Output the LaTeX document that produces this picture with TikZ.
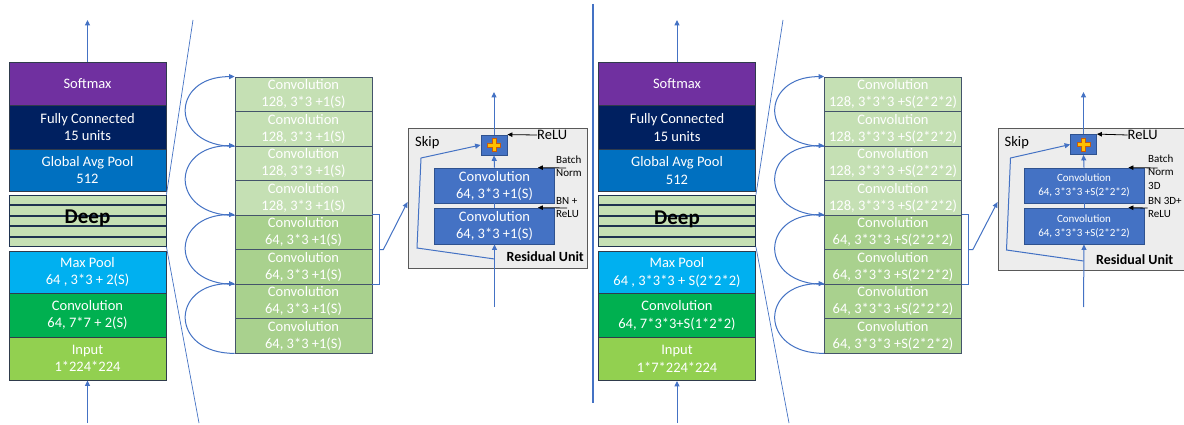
\documentclass[tikz,border=0pt]{standalone}
\usepackage{fontspec}
\setmainfont{Carlito}
\usetikzlibrary{arrows.meta,calc}

\definecolor{cSoft}{HTML}{7030A0}
\definecolor{cFC}{HTML}{002060}
\definecolor{cGAP}{HTML}{0070C0}
\definecolor{cMax}{HTML}{00B0F0}
\definecolor{cConv}{HTML}{00B050}
\definecolor{cIn}{HTML}{92D050}
\definecolor{cEdge}{HTML}{2F3B4C}
\definecolor{cStrip}{HTML}{C5E0B4}
\definecolor{cStripEdge}{HTML}{1F3350}
\definecolor{cLt}{HTML}{C5E0B4}
\definecolor{cDk}{HTML}{A9D18E}
\definecolor{cRowEdge}{HTML}{44546A}
\definecolor{cFlow}{HTML}{4472C4}
\definecolor{cRes}{HTML}{EDEDED}
\definecolor{cResEdge}{HTML}{595959}
\definecolor{cConvB}{HTML}{4472C4}
\definecolor{cConvEdge}{HTML}{2F528F}
\definecolor{cYel}{HTML}{FFC000}
\definecolor{cYelEdge}{HTML}{C55A11}

\newcommand\setfs[2]{\fontsize{#1}{#2}\selectfont}
% yellow "add" cross centred on a node
\newcommand\plusmark[1]{%
  \filldraw[fill=cYel, draw=cYelEdge, line width=0.4pt, shift={(#1)}]
    (-2,-6.5) -- (2,-6.5) -- (2,-2) -- (6.5,-2) -- (6.5,2) -- (2,2) -- (2,6.5)
    -- (-2,6.5) -- (-2,2) -- (-6.5,2) -- (-6.5,-2) -- (-2,-2) -- cycle;}

\tikzset{
  lyr/.style={draw=cEdge, line width=0.9pt, minimum width=157pt, inner sep=0pt,
    align=center, text=white, font=\setfs{14.5}{17.5}},
  deepstrip/.style={draw=cStripEdge, line width=0.9pt, fill=cStrip,
    minimum width=157pt, minimum height=9.5pt, inner sep=0pt},
  deeplbl/.style={font=\bfseries\setfs{21}{24}, text=black, inner sep=0pt},
  convrow/.style={draw=cRowEdge, line width=0.8pt, minimum width=137pt,
    minimum height=34.5pt, inner sep=0pt, align=center, text=white,
    font=\setfs{14.5}{17}},
  flow/.style={draw=cFlow, line width=1pt},
  headed/.style={-{Triangle[length=5.5pt,width=5pt]}},
  resbox/.style={draw=cResEdge, line width=0.9pt, fill=cRes, inner sep=0pt},
  convbox/.style={draw=cConvEdge, line width=0.8pt, fill=cConvB,
    minimum width=120pt, inner sep=0pt, align=center, text=white},
  addbox/.style={draw=cConvEdge, line width=0.8pt, fill=cConvB,
    minimum width=26pt, minimum height=20pt, inner sep=0pt},
  note/.style={font=\setfs{14.5}{17}, text=black, inner sep=0pt},
  smallnote/.style={font=\setfs{11}{13}, text=black, inner sep=0pt, align=left},
  pointer/.style={draw=black, line width=0.8pt, -{Triangle[length=5pt,width=4.5pt]}},
}

\begin{document}
\begin{tikzpicture}[x=1pt, y=-1pt]
\useasboundingbox (0,0) rectangle (1184,425);
\fill[white] (0,0) rectangle (1184,425);

%% ================= 2D network =================
% main stack
\node[lyr, fill=cSoft, minimum height=43pt] (Lsoft) at (87.5,83.5) {Softmax};
\node[lyr, fill=cFC, minimum height=44pt] (Lfc) at (87.5,127) {Fully Connected\\15 units};
\node[lyr, fill=cGAP, minimum height=42pt] (Lgap) at (87.5,170) {Global Avg Pool\\512};
\foreach \k/\y in {1/199.75,2/210.25,3/220.75,4/231.25,5/241.75}
  \node[deepstrip] (Ld\k) at (87.5,\y) {};
\node[deeplbl, anchor=base] (Ldeep) at (87.5,223) {Deep};
\node[lyr, fill=cMax, minimum height=42pt] (Lmax) at (87.5,272) {Max Pool\\64 , 3*3 + 2(S)};
\node[lyr, fill=cConv, minimum height=44pt] (Lconv) at (87.5,315) {Convolution\\64, 7*7 + 2(S)};
\node[lyr, fill=cIn, minimum height=43pt] (Lin) at (87.5,358.5) {Input\\1*224*224};

\coordinate (Lout) at (87.5,20);
\coordinate (Lsrc) at (87.5,423);
\draw[flow, headed] (Lsoft.north) -- (Lout);
\draw[flow, headed] (Lsrc) -- (Lin.south);

% zoom lines towards the deep part
\coordinate (Lz1) at (193,20);
\coordinate (Lz2) at (199,423);
\draw[flow, line width=0.7pt] (Ld1.north east) -- (Lz1);
\draw[flow, line width=0.7pt] (Ld5.south east) -- (Lz2);

% expanded deep part
\foreach \i/\n/\f in {1/128/cLt,2/128/cLt,3/128/cLt,4/128/cLt,5/64/cDk,6/64/cDk,7/64/cDk,8/64/cDk}
  \node[convrow, fill=\f] (Lm\i) at (303.5,{59.75+34.5*\i}) {Convolution\\\n, 3*3 +1(S)};
\foreach \a/\b in {2/1,4/3,6/5,8/7}
  \draw[flow, headed] (Lm\a.south west) .. controls +(-65,0) and +(-65,0) .. (Lm\b.north west);

% bracket round one residual unit
\draw[flow] (Lm5.north east) -- ++(7,0) |- (Lm6.south east);
\coordinate (Lbr) at ($(Lm5.north east)!0.5!(Lm6.south east)+(7,0)$);

% residual unit
\node[resbox, minimum width=179pt, minimum height=140pt] (Lres) at (497.5,198) {};
\draw[flow, headed] (Lbr) -- ++(4,0) -- ([yshift=-4pt]Lres.west);
\node[convbox, minimum height=35pt, font=\setfs{14.5}{17}] (Lc1) at (494.5,185.5) {Convolution\\64, 3*3 +1(S)};
\node[convbox, minimum height=36pt, font=\setfs{14.5}{17}] (Lc2) at (494.5,226) {Convolution\\64, 3*3 +1(S)};
\node[addbox] (Lplus) at (494,145) {};
\plusmark{Lplus}

\coordinate (Lrin) at (494.5,307);
\coordinate (Lrout) at (494,92);
\draw[flow, headed] (Lrin) -- (Lc2.south);
\draw[flow] (Lc2.north) -- (Lc1.south);
\draw[flow, headed] (Lc1.north) -- (Lplus.south);
\draw[flow, headed] (Lplus.north) -- (Lrout);

\coordinate (Lsk0) at (494.5,259);
\coordinate (Lsk1) at (417,248);
\coordinate (Lsk2) at (421,158);
\draw[flow, headed] (Lsk0) -- (Lsk1) -- (Lsk2) -- (Lplus.west);

\node[note, anchor=west] (Lskip) at (415,143) {Skip};
\node[note, anchor=west] (Lrelu) at (537,135) {ReLU};
\draw[pointer] (Lrelu.west) -- (Lplus.north east);
\node[smallnote, anchor=west] (Lbn1) at (556,166.5) {Batch\\Norm};
\coordinate (Lbn1s) at (566,168);
\draw[pointer] (Lbn1s) -- ([xshift=-17pt]Lc1.north east);
\node[smallnote, anchor=west] (Lbn2) at (556,208) {BN +\\ReLU};
\coordinate (Lbn2s) at (567,208);
\draw[pointer] (Lbn2s) -- ([xshift=-17pt]Lc2.north east);
\node[note, font=\bfseries\setfs{14}{17}, anchor=east] (Lru) at (584,257) {Residual Unit};

%% separator
\coordinate (Sep1) at (593,4);
\coordinate (Sep2) at (593,403);
\draw[flow, line width=1.2pt] (Sep1) -- (Sep2);

%% ================= 3D network =================
\begin{scope}[xshift=589.5pt]
\node[lyr, fill=cSoft, minimum height=43pt] (Rsoft) at (87.5,84) {Softmax};
\node[lyr, fill=cFC, minimum height=44pt] (Rfc) at (87.5,127.5) {Fully Connected\\15 units};
\node[lyr, fill=cGAP, minimum height=42pt] (Rgap) at (87.5,170.5) {Global Avg Pool\\512};
\foreach \k/\y in {1/199.75,2/210.25,3/220.75,4/231.25,5/241.75}
  \node[deepstrip] (Rd\k) at (87.5,\y) {};
\node[deeplbl, anchor=base] (Rdeep) at (87.5,224) {Deep};
\node[lyr, fill=cMax, minimum height=42pt] (Rmax) at (87.5,272.5) {Max Pool\\64 , 3*3*3 + S(2*2*2)};
\node[lyr, fill=cConv, minimum height=44pt] (Rconv) at (87.5,315.5) {Convolution\\64, 7*3*3+S(1*2*2)};
\node[lyr, fill=cIn, minimum height=43pt] (Rin) at (87.5,359) {Input\\1*7*224*224};

\coordinate (Rout) at (87.5,20);
\coordinate (Rsrc) at (87.5,423);
\draw[flow, headed] (Rsoft.north) -- (Rout);
\draw[flow, headed] (Rsrc) -- (Rin.south);

\coordinate (Rz1) at (193.5,20);
\coordinate (Rz2) at (199.5,423);
\draw[flow, line width=0.7pt] (Rd1.north east) -- (Rz1);
\draw[flow, line width=0.7pt] (Rd5.south east) -- (Rz2);

\foreach \i/\n/\f in {1/128/cLt,2/128/cLt,3/128/cLt,4/128/cLt,5/64/cDk,6/64/cDk,7/64/cDk,8/64/cDk}
  \node[convrow, fill=\f] (Rm\i) at (303.5,{59.75+34.5*\i}) {Convolution\\\n, 3*3*3 +S(2*2*2)};
\foreach \a/\b in {2/1,4/3,6/5,8/7}
  \draw[flow, headed] (Rm\a.south west) .. controls +(-65,0) and +(-65,0) .. (Rm\b.north west);

\draw[flow] (Rm5.north east) -- ++(7,0) |- (Rm6.south east);
\coordinate (Rbr) at ($(Rm5.north east)!0.5!(Rm6.south east)+(7,0)$);

\node[resbox, minimum width=189pt, minimum height=142pt] (Rres) at (503,199) {};
\draw[flow, headed] (Rbr) -- ++(4,0) -- ([yshift=-3pt]Rres.west);
\node[convbox, minimum height=35pt, font=\setfs{11}{14}] (Rc1) at (494.5,185.5) {Convolution\\64, 3*3*3 +S(2*2*2)};
\node[convbox, minimum height=36pt, font=\setfs{11}{14}] (Rc2) at (494.5,226) {Convolution\\64, 3*3*3 +S(2*2*2)};
\node[addbox] (Rplus) at (494,144.5) {};
\plusmark{Rplus}

\coordinate (Rrin) at (494,307);
\coordinate (Rrout) at (494,92);
\draw[flow, headed] (Rrin) -- (Rc2.south);
\draw[flow] (Rc2.north) -- (Rc1.south);
\draw[flow, headed] (Rc1.north) -- (Rplus.south);
\draw[flow, headed] (Rplus.north) -- (Rrout);

\coordinate (Rsk0) at (494,261);
\coordinate (Rsk1) at (417,250);
\coordinate (Rsk2) at (421,158);
\draw[flow, headed] (Rsk0) -- (Rsk1) -- (Rsk2) -- (Rplus.west);

\node[note, anchor=west] (Rskip) at (415,143) {Skip};
\node[note, anchor=west] (Rrelu) at (538,135) {ReLU};
\draw[pointer] (Rrelu.west) -- (Rplus.north east);
\node[smallnote, font=\setfs{11}{13.5}, anchor=west] (Rbn1) at (558.5,172) {Batch\\Norm\\3D};
\coordinate (Rbn1s) at (568,168);
\draw[pointer] (Rbn1s) -- ([xshift=-16pt]Rc1.north east);
\node[smallnote, anchor=west] (Rbn2) at (558.5,207.5) {BN 3D+\\ReLU};
\coordinate (Rbn2s) at (558,208);
\draw[pointer] (Rbn2s) -- ([xshift=-16pt]Rc2.north east);
\node[note, font=\bfseries\setfs{14}{17}, anchor=east] (Rru) at (584,260) {Residual Unit};
\end{scope}
\end{tikzpicture}
\end{document}
